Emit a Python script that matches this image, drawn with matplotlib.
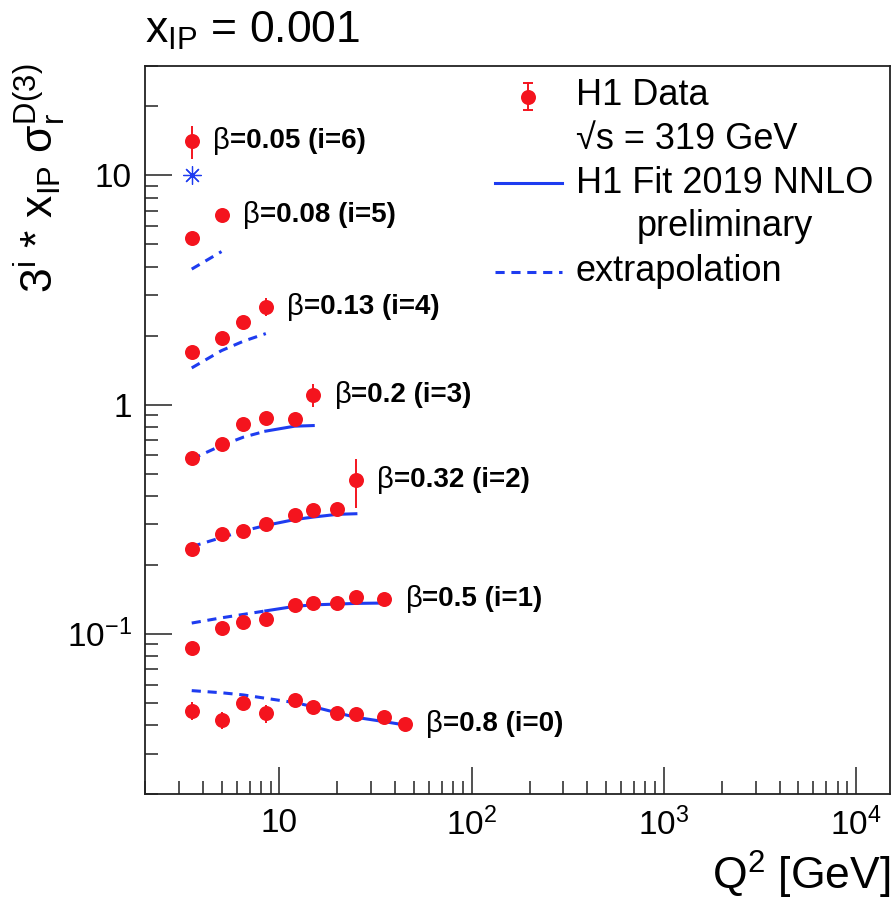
import numpy as np
import matplotlib
matplotlib.use("Agg")
import matplotlib.pyplot as plt
from matplotlib.ticker import FixedLocator, FixedFormatter, LogLocator, NullFormatter

plt.rcParams['font.family'] = ['Liberation Sans', 'DejaVu Sans']
plt.rcParams['mathtext.fontset'] = 'custom'
plt.rcParams['mathtext.rm'] = 'Liberation Sans'
plt.rcParams['mathtext.it'] = 'Liberation Sans:italic'
plt.rcParams['mathtext.bf'] = 'Liberation Sans:bold'

# ---------------------------------------------------------------
# Reduced diffractive cross section sigma_r^D(3) at x_IP = 0.001
# (unscaled values; each beta bin is drawn multiplied by 3^i)
# ---------------------------------------------------------------
betas = [0.8, 0.5, 0.32, 0.2, 0.13, 0.08, 0.05]
beta_labels = ["0.8", "0.5", "0.32", "0.2", "0.13", "0.08", "0.05"]

# beta = 0.8 (i = 0)
q2_b080 = [3.5, 5, 6.5, 8.5, 12, 15, 20, 25, 35, 45]
sig_b080 = [0.0462, 0.0421, 0.0501, 0.0450, 0.0512, 0.0481, 0.0450, 0.0447, 0.0435, 0.0405]
err_b080 = [0.0043, 0.0035, 0.0018, 0.0040, 0.0018, 0.0017, 0.0016, 0.0016, 0.0016, 0.0015]
fit_q2_b080 = [3.5, 5, 6.5, 8.5, 12, 15, 16, 20, 25, 35, 45]
fit_b080 = [0.0565, 0.0553, 0.0541, 0.0523, 0.0501, 0.0481, 0.0474, 0.0452, 0.0432, 0.0414, 0.0400]
fit_qmin_b080 = 16

# beta = 0.5 (i = 1)
q2_b050 = [3.5, 5, 6.5, 8.5, 12, 15, 20, 25, 35]
sig_b050 = [0.0290, 0.0355, 0.0374, 0.0386, 0.0444, 0.0452, 0.0455, 0.0480, 0.0471]
err_b050 = [0.0010, 0.0011, 0.0011, 0.0012, 0.0013, 0.0013, 0.0013, 0.0014, 0.0014]
fit_q2_b050 = [3.5, 5, 6.5, 8.5, 12, 15, 20, 25, 35]
fit_b050 = [0.03713, 0.03913, 0.04050, 0.04197, 0.04390, 0.04457, 0.04493, 0.04523, 0.04540]
fit_qmin_b050 = 8.5

# beta = 0.32 (i = 2)
q2_b032 = [3.5, 5, 6.5, 8.5, 12, 15, 20, 25]
sig_b032 = [0.02614, 0.03019, 0.03111, 0.03362, 0.03651, 0.03839, 0.03878, 0.05186]
err_b032 = [0.0008, 0.0009, 0.0009, 0.0010, 0.0011, 0.0011, 0.0012, 0.01256]
fit_q2_b032 = [3.5, 5, 6.5, 8.5, 12, 15, 20, 25]
fit_b032 = [0.02667, 0.02922, 0.03122, 0.03300, 0.03500, 0.03589, 0.03689, 0.03711]
fit_qmin_b032 = 8.5

# beta = 0.2 (i = 3)
q2_b020 = [3.5, 5, 6.5, 8.5, 12, 15]
sig_b020 = [0.02170, 0.02481, 0.03052, 0.03230, 0.03207, 0.04093]
err_b020 = [0.0007, 0.0008, 0.0009, 0.0010, 0.0010, 0.0048]
fit_q2_b020 = [3.5, 5, 6.5, 8.5, 12, 15]
fit_b020 = [0.02141, 0.02456, 0.02670, 0.02837, 0.02981, 0.03000]
fit_qmin_b020 = 8.5

# beta = 0.13 (i = 4)
q2_b013 = [3.5, 5, 6.5, 8.5]
sig_b013 = [0.02086, 0.02410, 0.02817, 0.03298]
err_b013 = [0.0007, 0.0008, 0.0009, 0.0030]
fit_q2_b013 = [3.5, 5, 6.5, 8.5]
fit_b013 = [0.01784, 0.02123, 0.02333, 0.02519]
fit_qmin_b013 = 8.5

# beta = 0.08 (i = 5)
q2_b008 = [3.5, 5]
sig_b008 = [0.02189, 0.02757]
err_b008 = [0.0007, 0.0008]
fit_q2_b008 = [3.5, 5]
fit_b008 = [0.01605, 0.01914]
fit_qmin_b008 = 8.5

# beta = 0.05 (i = 6)
q2_b005 = [3.5]
sig_b005 = [0.01934]
err_b005 = [0.00316]
fit_q2_b005 = [3.5]
fit_b005 = [0.01381]
fit_qmin_b005 = 8.5

series = [
    (q2_b080, sig_b080, err_b080, fit_q2_b080, fit_b080, fit_qmin_b080),
    (q2_b050, sig_b050, err_b050, fit_q2_b050, fit_b050, fit_qmin_b050),
    (q2_b032, sig_b032, err_b032, fit_q2_b032, fit_b032, fit_qmin_b032),
    (q2_b020, sig_b020, err_b020, fit_q2_b020, fit_b020, fit_qmin_b020),
    (q2_b013, sig_b013, err_b013, fit_q2_b013, fit_b013, fit_qmin_b013),
    (q2_b008, sig_b008, err_b008, fit_q2_b008, fit_b008, fit_qmin_b008),
    (q2_b005, sig_b005, err_b005, fit_q2_b005, fit_b005, fit_qmin_b005),
]

# axis ticks
x_major = [10, 100, 1000, 10000]
x_major_labels = ["10", r"$10^{2}$", r"$10^{3}$", r"$10^{4}$"]
y_major = [0.1, 1, 10]
y_major_labels = [r"$10^{-1}$", "1", "10"]

RED = "#f4141e"
BLUE = "#1e3cf0"
DASH = (0, (3.0, 2.2))

W, H = 895, 905
fig = plt.figure(figsize=(W / 100, H / 100), dpi=100)
ax = fig.add_axes([145 / W, 1 - 794 / H, 745 / W, 728 / H])

ax.set_xscale("log")
ax.set_yscale("log")
ax.set_xlim(2, 15000)
ax.set_ylim(0.02, 30)

for i, (q2, sig, err, fq2, fsig, qmin) in enumerate(series):
    scale = 3.0 ** i
    q2 = np.asarray(q2, float)
    y = np.asarray(sig) * scale
    e = np.asarray(err) * scale
    fq = np.asarray(fq2, float)
    fy = np.asarray(fsig) * scale

    if len(fq) > 1:
        low = fq <= qmin
        high = fq >= qmin
        if low.sum() > 1:
            ax.plot(fq[low], fy[low], color=BLUE, lw=2.2, ls=DASH,
                    zorder=2, dash_capstyle="butt")
        if high.sum() > 1:
            ax.plot(fq[high], fy[high], color=BLUE, lw=2.2, ls="-", zorder=2)
    else:
        ax.plot(fq, fy, ls="none", marker=(8, 2, 0), ms=13, mec=BLUE, mew=0.9,
                color=BLUE, zorder=2)

    ax.errorbar(q2, y, yerr=e, fmt="o", color=RED, ms=10.8, mew=0,
                elinewidth=1.4, capsize=3.6, capthick=1.4, zorder=3)

    # bin label: upright beta followed by bold text
    ax.annotate("\u03b2", xy=(q2[-1], y[-1]), xytext=(15.5, 0), textcoords="offset points",
                ha="left", va="center", fontsize=21, color="black")
    ax.annotate("=" + beta_labels[i] + " (i=" + str(i) + ")",
                xy=(q2[-1], y[-1]), xytext=(27.5, 0), textcoords="offset points",
                ha="left", va="center", fontsize=20, fontweight="bold", color="black")

# axes styling
ax.xaxis.set_major_locator(FixedLocator(x_major))
ax.xaxis.set_major_formatter(FixedFormatter(x_major_labels))
ax.xaxis.set_minor_locator(LogLocator(base=10, subs=np.arange(2, 10)))
ax.xaxis.set_minor_formatter(NullFormatter())
ax.yaxis.set_major_locator(FixedLocator(y_major))
ax.yaxis.set_major_formatter(FixedFormatter(y_major_labels))
ax.yaxis.set_minor_locator(LogLocator(base=10, subs=np.arange(2, 10)))
ax.yaxis.set_minor_formatter(NullFormatter())

ax.tick_params(which="both", direction="in", top=False, right=False, width=1.1, colors="#222222")
ax.tick_params(which="major", length=19.5)
ax.tick_params(which="minor", length=9.7)
ax.tick_params(axis="y", which="major", pad=9.4, labelsize=24, labelcolor="black")
ax.tick_params(axis="x", which="major", pad=10, labelsize=24, labelcolor="black")
for sp in ax.spines.values():
    sp.set_linewidth(1.3)
    sp.set_color("#222222")

# legend
tr = ax.transAxes
lx = 0.5145
ax.plot([lx, lx], [0.958 - 0.0183, 0.958 + 0.0183], color=RED, lw=1.4, transform=tr, clip_on=False)
ax.plot([lx, lx], [0.958 - 0.0183, 0.958 + 0.0183], ls="none", marker="_", ms=7.2, mew=1.4,
        color=RED, transform=tr, clip_on=False)
ax.plot([lx], [0.958], ls="none", marker="o", ms=10.8, mew=0, color=RED, transform=tr, clip_on=False)
ax.plot([0.4698, 0.5593], [0.839, 0.839], color=BLUE, lw=2.2, transform=tr)
ax.plot([0.4698, 0.5593], [0.7175, 0.7175], color=BLUE, lw=2.2, ls=DASH, transform=tr)

leg_fs = 26
ax.text(0.5785, 0.9464, "H1 Data", transform=tr, fontsize=leg_fs, va="baseline", ha="left")
ax.text(0.5785, 0.8856, "\u221as = 319 GeV", transform=tr, fontsize=leg_fs,
        va="baseline", ha="left")
ax.text(0.5785, 0.8251, "H1 Fit 2019 NNLO", transform=tr, fontsize=leg_fs, va="baseline", ha="left")
ax.text(0.7785, 0.7665, "preliminary", transform=tr, fontsize=leg_fs, va="baseline", ha="center")
ax.text(0.5785, 0.7047, "extrapolation", transform=tr, fontsize=leg_fs, va="baseline", ha="left")

# titles
fig.text(145 / W, 1 - 43 / H, r"x$_{\mathrm{IP}}$ = 0.001", fontsize=32, ha="left", va="baseline")
fig.text(890 / W, 1 - 890 / H, r"Q$^{2}$ [GeV]", fontsize=32, ha="right", va="baseline")
fig.text(68 / W, 1 - 64 / H,
         r"$3^{\mathrm{i}}$ * x$_{\mathrm{IP}}$ $\mathrm{\sigma}_{\mathrm{r}}^{\mathrm{D(3)}}$",
         fontsize=32, rotation=90, ha="right", va="top")

fig.savefig("out.png", dpi=100)
